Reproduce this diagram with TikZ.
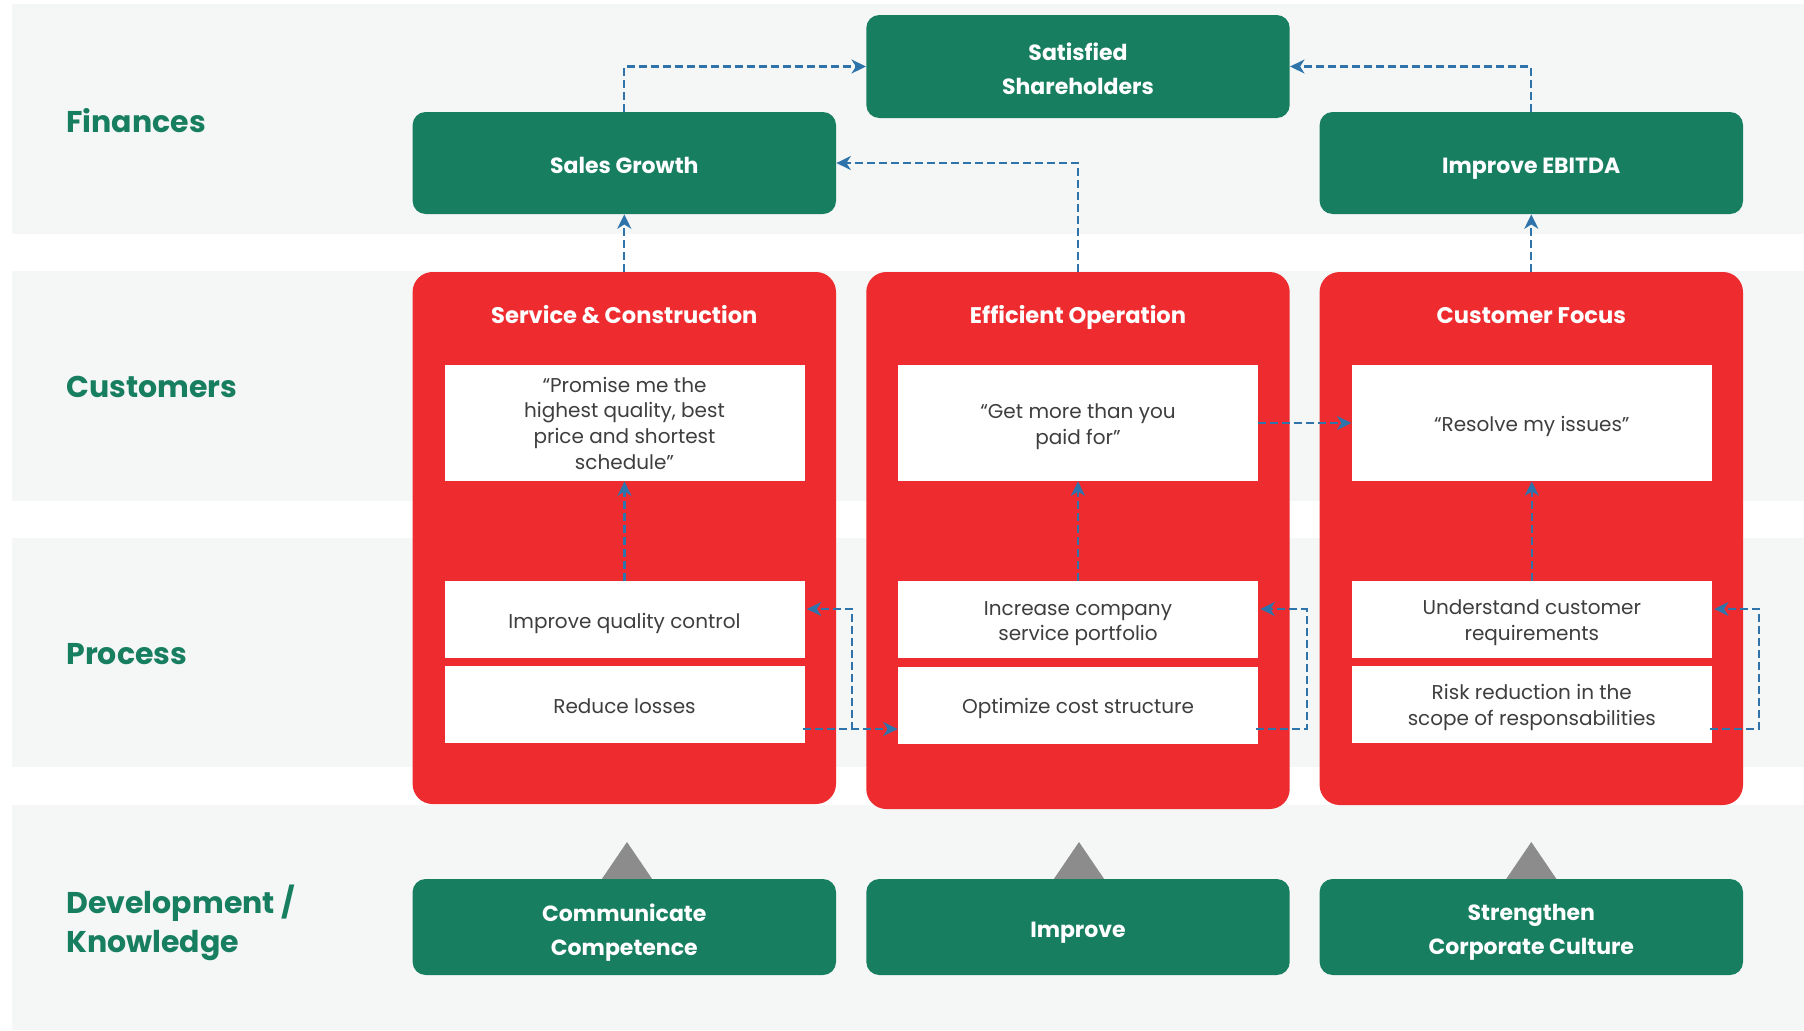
\documentclass[tikz,border=0pt]{standalone}
\usepackage{fontspec}
\setmainfont{Poppins}
\usetikzlibrary{arrows.meta,calc}
\definecolor{bandgray}{RGB}{245,247,246}
\definecolor{dgreen}{RGB}{23,126,95}
\definecolor{bred}{RGB}{238,44,48}
\definecolor{lblue}{RGB}{46,116,170}
\definecolor{tgray}{RGB}{62,62,62}
\definecolor{trigray}{RGB}{140,140,140}
\begin{document}
\begin{tikzpicture}[x=0.5pt,y=-0.5pt,
  band/.style={fill=bandgray,draw=none},
  gbox/.style={fill=dgreen, rounded corners=6.5pt, text=white,
    font=\bfseries\fontsize{11}{17}\selectfont, align=center, inner sep=0pt,
    minimum width=211.7pt, minimum height=51pt},
  gone/.style={gbox, execute at begin node={\rule{0pt}{15.4pt}},
    execute at end node={\rule[-5.1pt]{0pt}{0pt}}},
  gtxt/.style={text=white, font=\bfseries\fontsize{11}{17}\selectfont,
    align=center, inner sep=0pt,
    execute at begin node=\strut, execute at end node=\strut},
  rbox/.style={fill=bred, rounded corners=10pt, inner sep=0pt, minimum width=211.7pt},
  rtitle/.style={text=white, font=\bfseries\fontsize{11.3}{14}\selectfont, inner sep=0pt},
  wbox/.style={fill=white, inner sep=0pt, minimum width=180pt, text=tgray,
    font=\fontsize{10}{12.85}\selectfont, align=center,
    execute at begin node={\rule{0pt}{12.5pt}},
    execute at end node={\rule[-3.86pt]{0pt}{0pt}}},
  wtxt/.style={text=tgray, font=\fontsize{10}{12.85}\selectfont, align=center,
    inner sep=0pt, execute at begin node=\strut, execute at end node=\strut},
  lane/.style={text=dgreen, font=\bfseries\fontsize{15}{19.5}\selectfont,
    anchor=west, align=left, inner sep=0pt,
    execute at begin node={\rule{0pt}{15.65pt}},
    execute at end node={\rule[-5.85pt]{0pt}{0pt}}},
  conn/.style={draw=lblue, line width=1.15pt, dash pattern=on 4pt off 2pt,
    -{Stealth[length=7.2pt,width=7pt,inset=2.2pt]}},
  tri/.style={fill=trigray, draw=none}]

\useasboundingbox (0,0) rectangle (1804,1030);
\fill[white] (0,0) rectangle (1804,1030);

% bands
\fill[band] (11.5,4) rectangle (1804,234);
\fill[band] (11.5,271) rectangle (1804,501);
\fill[band] (11.5,538) rectangle (1804,767);
\fill[band] (11.5,805) rectangle (1804,1030);

% lane labels
\node[lane] (lfin) at (66,123) {Finances};
\node[lane] (lcus) at (66,388) {Customers};
\node[lane] (lpro) at (66,655) {Process};
\node[lane] (ldev) at (66,924.5) {Development /\\Knowledge};

% finance boxes
\node[gbox, minimum height=51.5pt] (sat) at (1078,66.5) {};
\node[gtxt] (sattxt) at ($(sat.center)+(0,7.5)$) {Satisfied\\Shareholders};
\node[gone] (sales) at (624.3,163) {Sales Growth};
\node[gone] (ebitda) at (1531.3,163) {Improve EBITDA};

% red boxes
\node[rbox, minimum height=266pt] (red1) at (624.3,538) {};
\node[rbox, minimum height=268.5pt] (red2) at (1078,540.5) {};
\node[rbox, minimum height=266.5pt] (red3) at (1531.3,538.5) {};

\node[rtitle, anchor=base] (t1) at (624.3,323) {Service \& Construction};
\node[rtitle, anchor=base] (t2) at (1078,323) {Efficient Operation};
\node[rtitle, anchor=base] (t3) at (1531.3,323) {Customer Focus};

% customer quotes
\node[wbox, minimum height=58pt] (q1) at (624.5,423) {};
\node[wtxt] (q1txt) at ($(q1.center)+(0,4)$) {“Promise me the\\highest quality, best\\price and shortest\\schedule”};
\node[wbox, minimum height=58pt] (q2) at (1078,423) {};
\node[wtxt] (q2txt) at ($(q2.center)+(0,4.6)$) {“Get more than you\\paid for”};
\node[wbox, minimum height=58pt] (q3) at (1531.8,423) {“Resolve my issues”};

% process boxes
\node[wbox, minimum height=38.5pt] (p1a) at (624.5,619.5) {Improve quality control};
\node[wbox, minimum height=38.5pt] (p1b) at (624.5,704.5) {Reduce losses};
\node[wbox, minimum height=38.5pt] (p2a) at (1078,619.5) {};
\node[wtxt] (p2atxt) at ($(p2a.center)+(0,5.5)$) {Increase company\\service portfolio};
\node[wbox, minimum height=38.5pt] (p2b) at (1078,705) {Optimize cost structure};
\node[wbox, minimum height=38.5pt] (p3a) at (1531.8,619.5) {};
\node[wtxt] (p3atxt) at ($(p3a.center)+(0,4.6)$) {Understand customer\\requirements};
\node[wbox, minimum height=38.5pt] (p3b) at (1531.8,704.5) {};
\node[wtxt] (p3btxt) at ($(p3b.center)+(0,4)$) {Risk reduction in the\\scope of responsabilities};

% development boxes
\fill[tri] (627,842) -- (652.5,879.5) -- (601.5,879.5) -- cycle;
\fill[tri] (1079,842) -- (1104.5,879.5) -- (1053.5,879.5) -- cycle;
\fill[tri] (1531.3,842) -- (1556.8,879.5) -- (1505.8,879.5) -- cycle;
\node[gbox, minimum height=48pt] (d1) at (624.3,927) {};
\node[gtxt] (d1txt) at ($(d1.center)+(0,7.5)$) {Communicate\\Competence};
\node[gone, minimum height=48pt] (d2) at (1078,927) {Improve};
\node[gbox, minimum height=48pt] (d3) at (1531.3,927) {};
\node[gtxt] (d3txt) at ($(d3.center)+(0,7.2)$) {Strengthen\\Corporate Culture};

% connectors
\draw[conn] (sales.north) |- (sat.west);
\draw[conn] (ebitda.north) |- (sat.east);
\draw[conn] (red2.north) |- (sales.east);
\draw[conn] (red1.north) -- (sales.south);
\draw[conn] (red3.north) -- (ebitda.south);
\draw[conn] (q2.east) -- (q3.west);
\draw[conn] (p1a.north) -- (q1.south);
\draw[conn] (p2a.north) -- (q2.south);
\draw[conn] (p3a.north) -- (q3.south);

\coordinate (a1) at ($(p1b.east)+(-2,24.5)$);
\coordinate (b1) at ($(p1a.east)+(2,-10.5)$);
\draw[conn] (a1) -| ($(b1)+(45,0)$) -- (b1);
\draw[conn] (a1) -- (p2b.west |- a1);

\coordinate (a2) at ($(p2b.east)+(-2,24)$);
\coordinate (b2) at ($(p2a.east)+(2,-10.5)$);
\draw[conn] (a2) -| ($(b2)+(46.5,0)$) -- (b2);

\coordinate (a3) at ($(p3b.east)+(-2,24.5)$);
\coordinate (b3) at ($(p3a.east)+(2,-10.5)$);
\draw[conn] (a3) -| ($(b3)+(45,0)$) -- (b3);
\end{tikzpicture}
\end{document}
